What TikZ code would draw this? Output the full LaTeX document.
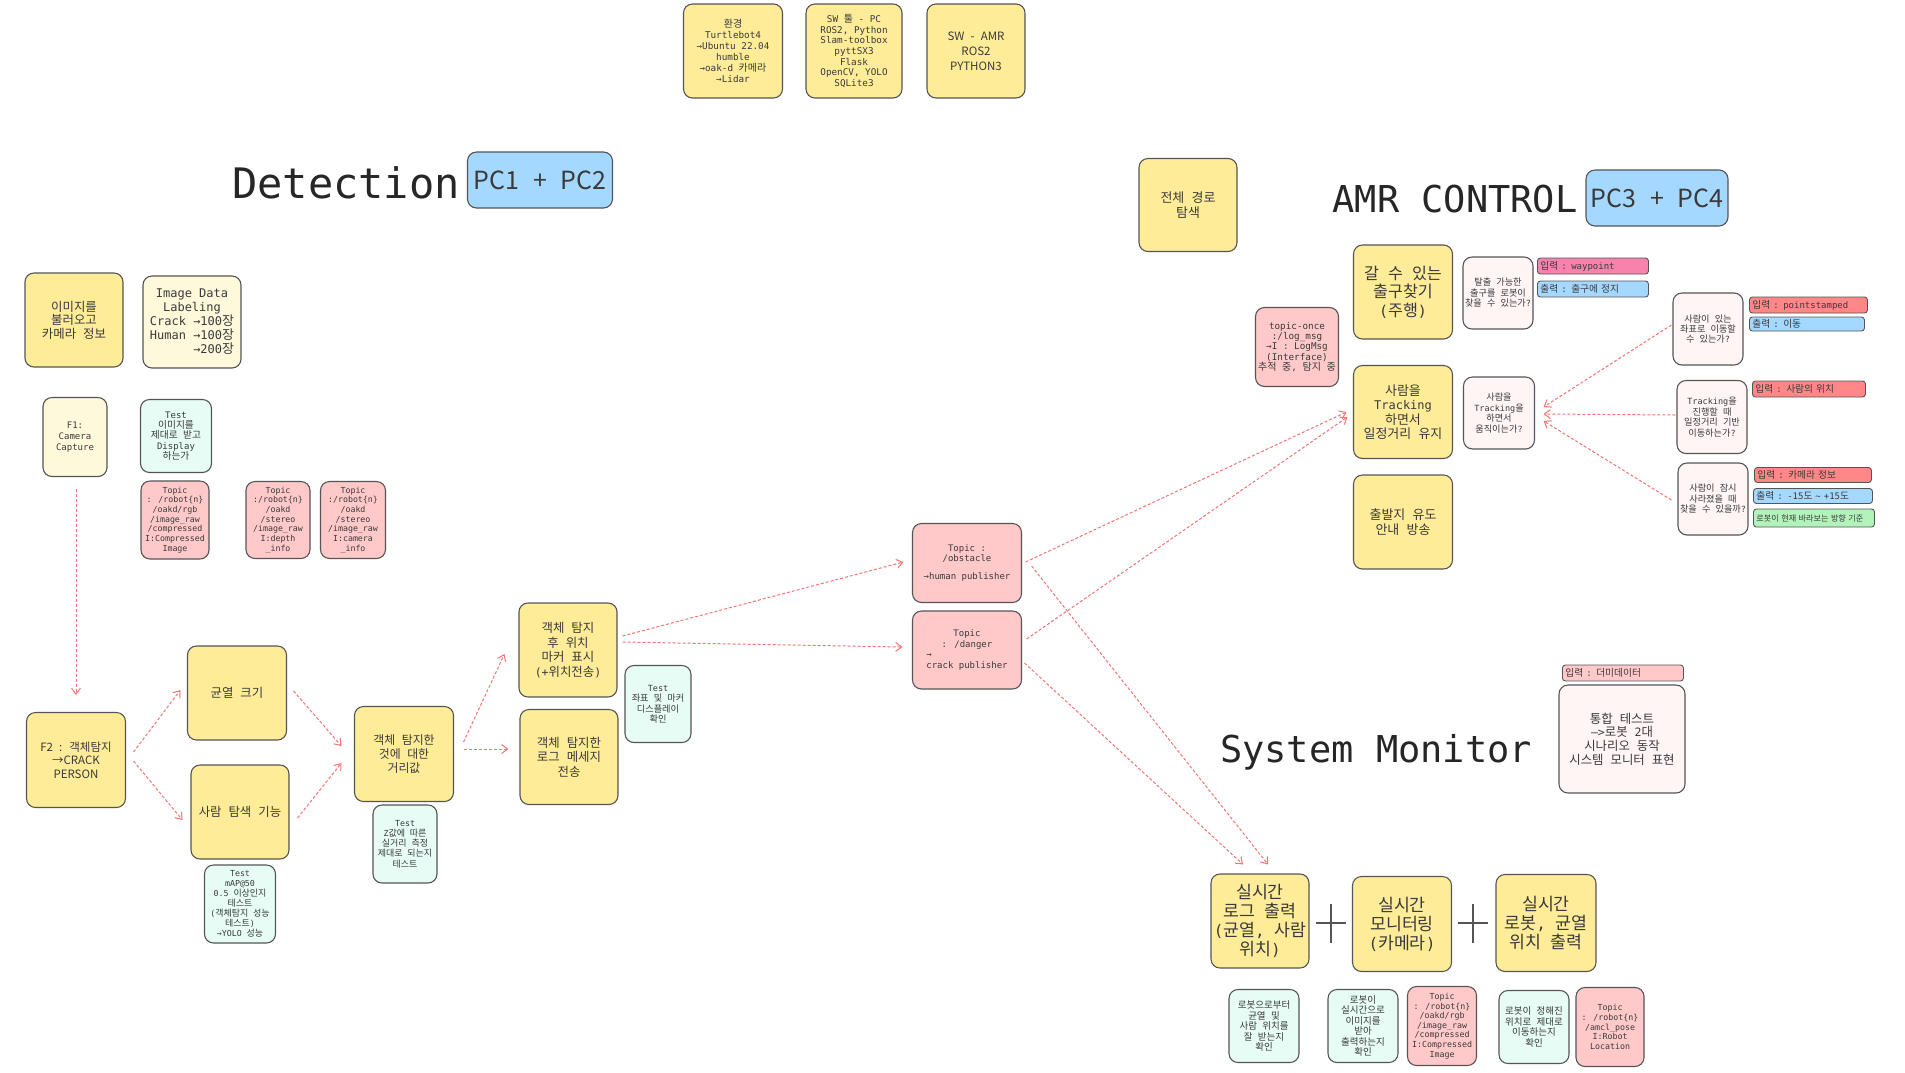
\documentclass[tikz,border=0pt]{standalone}
\usepackage{fontspec}
\setmainfont{DejaVu Sans Mono}
\newfontfamily\krfont[Scale=1.08]{Noto Sans CJK KR}
\newfontfamily\krsans[WordSpace=2.4]{Noto Sans CJK KR}
\newfontfamily\monofont{DejaVu Sans Mono}
\usetikzlibrary{arrows.meta}
\XeTeXinterchartokenstate=1
\newXeTeXintercharclass\hangul
\newcount\hcnt
\hcnt="AC00
\loop \XeTeXcharclass\hcnt=\hangul \ifnum\hcnt<"D7A3 \advance\hcnt 1 \repeat
\hcnt=33
\loop \XeTeXcharclass\hcnt=0 \ifnum\hcnt<126 \advance\hcnt 1 \repeat
\XeTeXcharclass"2192=0
\XeTeXinterchartoks 0 \hangul = {\krfont}
\XeTeXinterchartoks 4095 \hangul = {\krfont}
\XeTeXinterchartoks \hangul 0 = {\monofont}
\XeTeXinterchartoks \hangul 4095 = {\monofont}
\newcommand\sansmode{\XeTeXinterchartokenstate=0\relax\krsans}
\definecolor{yel}{HTML}{FFEC99}
\definecolor{lyel}{HTML}{FFF9DB}
\definecolor{mint}{HTML}{E6FCF5}
\definecolor{rose}{HTML}{FFC9C9}
\definecolor{blush}{HTML}{FFF5F5}
\definecolor{sky}{HTML}{A5D8FF}
\definecolor{magen}{HTML}{F783AC}
\definecolor{redtag}{HTML}{FF8787}
\definecolor{grn}{HTML}{B2F2BB}
\definecolor{edge}{HTML}{555555}
\definecolor{ink}{HTML}{3A3A3A}
\definecolor{flowc}{HTML}{F27474}
\tikzset{
 box/.style={draw=edge,line width=1.1pt,rounded corners=9pt,align=center,inner sep=1pt,text=ink},
 sz/.style 2 args={minimum width=#1pt,minimum height=#2pt},
 fz/.style 2 args={font=\fontsize{#1}{#2}\selectfont},
 sfz/.style 2 args={font=\sansmode\fontsize{#1}{#2}\selectfont},
 tg/.style={draw=edge,line width=0.9pt,rounded corners=3pt,inner xsep=3pt,inner ysep=0pt,anchor=west,align=left,text width=#1pt,minimum height=16pt,text=ink,fz={9}{10}},
 flow/.style={draw=flowc,line width=1pt,dash pattern=on 3pt off 2pt,-{Straight Barb[length=6pt,width=9pt]}},
 cross/.style={draw=edge,line width=1.2pt}
}
\begin{document}
\begin{tikzpicture}[x=1pt,y=-1pt]
\fill[white] (0,0) rectangle (1905,1072);
\useasboundingbox (0,0) rectangle (1905,1072);
\node[box,fill=yel,sz={99}{94},fz={9.3}{10.9}] (env) at (733,51) {환경\\Turtlebot4\\→Ubuntu 22.04\\humble\\→oak-d 카메라\\→Lidar};
\node[box,fill=yel,sz={96}{94},fz={9.3}{10.6}] (swpc) at (854,51) {SW 툴 - PC\\ROS2, Python\\Slam-toolbox\\pyttSX3\\Flask\\OpenCV, YOLO\\SQLite3};
\node[box,fill=yel,sz={98}{94},sfz={11.5}{15}] (swamr) at (976,51) {SW - AMR\\ROS2\\PYTHON3};
\node[fz={42}{46},text=black!85] (detect) at (346,183) {Detection};
\node[box,fill=sky,sz={145}{56},sfz={25}{28}] (pcdet) at (540,180) {PC1 + PC2};
\node[box,fill=yel,sz={98}{94},fz={11.5}{13.5}] (imgload) at (74,320) {이미지를\\불러오고\\카메라 정보};
\node[box,fill=lyel,sz={98}{92},fz={12}{14}] (label) at (192,322) {Image Data\\Labeling\\Crack →100장\\Human →100장\\\phantom{Human }→200장};
\node[box,fill=lyel,sz={64}{79},fz={9}{10.7}] (f1) at (75,437) {F1:\\Camera\\Capture};
\node[box,fill=mint,sz={71}{73},fz={9}{10.4}] (test1) at (176,436) {Test\\이미지를\\제대로 받고\\Display\\하는가};
\node[box,fill=rose,sz={68}{78},fz={8.3}{9.7}] (topic1) at (175,520) {Topic\\: /robot\{n\}\\/oakd/rgb\\/image\_raw\\/compressed\\I:Compressed\\Image};
\node[box,fill=rose,sz={64}{77},fz={8.3}{9.7}] (topic2) at (278,520) {Topic\\:/robot\{n\}\\/oakd\\/stereo\\/image\_raw\\I:depth\\\_info};
\node[box,fill=rose,sz={65}{77},fz={8.3}{9.7}] (topic3) at (353,520) {Topic\\:/robot\{n\}\\/oakd\\/stereo\\/image\_raw\\I:camera\\\_info};
\node[box,fill=yel,sz={99}{95},sfz={11.5}{13.5}] (f2) at (76,760) {F2 : 객체탐지\\→CRACK\\PERSON};
\node[box,fill=yel,sz={99}{94},fz={11.5}{14}] (crack) at (237,693) {균열 크기};
\node[box,fill=yel,sz={98}{94},fz={11.5}{14}] (person) at (240,812) {사람 탐색 기능};
\node[box,fill=yel,sz={99}{95},fz={11}{14}] (dist) at (404,754) {객체 탐지한\\것에 대한\\거리값};
\node[box,fill=mint,sz={71}{78},fz={8.3}{10}] (testmap) at (240,904) {Test\\mAP@50\\0.5 이상인지\\테스트\\(객체탐지 성능\\테스트)\\→YOLO 성능};
\node[box,fill=mint,sz={64}{78},fz={8.3}{10.3}] (testz) at (405,844) {Test\\Z값에 따른\\실거리 측정\\제대로 되는지\\테스트};
\node[box,fill=yel,sz={98}{94},fz={11.5}{14.5}] (marker) at (568,650) {객체 탐지\\후 위치\\마커 표시\\(+위치전송)};
\node[box,fill=yel,sz={98}{95},fz={11.5}{14.5}] (logmsg) at (569,757) {객체 탐지한\\로그 메세지\\전송};
\node[box,fill=mint,sz={66}{77},fz={8.5}{10.5}] (testxy) at (658,704) {Test\\좌표 및 마커\\디스플레이\\확인};
\node[box,fill=rose,sz={109}{79},fz={9}{10.8}] (obst) at (967,563) {Topic :\\/obstacle\\[7pt]→human publisher};
\node[box,fill=rose,sz={109}{78},fz={9}{10.8}] (danger) at (967,650) {Topic\\: /danger\\\rlap{→}\phantom{crack publisher}\\crack publisher};
\node[box,fill=yel,sz={98}{93},fz={12}{15}] (fullpath) at (1188,205) {전체 경로\\탐색};
\node[fz={37}{40},text=black!85] (amrtitle) at (1455,199) {AMR CONTROL};
\node[box,fill=sky,sz={142}{56},sfz={25}{28}] (pcamr) at (1657,198) {PC3 + PC4};
\node[box,fill=yel,sz={99}{94},fz={15}{18.5}] (exit) at (1403,292) {갈 수 있는\\출구찾기\\(주행)};
\node[box,fill=blush,sz={70}{72},fz={8.5}{10.5}] (exitq) at (1498,293) {탈출 가능한\\출구를 로봇이\\찾을 수 있는가?};
\node[tg=105,fill=magen] (tagwp) at (1537,266) {입력 : waypoint};
\node[tg=105,fill=sky] (tagexit) at (1537,289) {출력 : 출구에 정지};
\node[box,fill=rose,sz={83}{79},fz={9.3}{10.4}] (topiconce) at (1297,347) {topic-once\\:/log\_msg\\→I : LogMsg\\(Interface)\\추적 중, 탐지 중};
\node[box,fill=yel,sz={99}{93},fz={12}{14.5}] (track) at (1403,412) {사람을\\Tracking\\하면서\\일정거리 유지};
\node[box,fill=blush,sz={71}{72},fz={8.5}{10.5}] (trackq) at (1499,413) {사람을\\Tracking을\\하면서\\움직이는가?};
\node[box,fill=yel,sz={99}{94},fz={12}{15}] (home) at (1403,522) {출발지 유도\\안내 방송};
\node[box,fill=blush,sz={70}{72},fz={8.5}{10}] (q1) at (1708,329) {사람이 있는\\좌표로 이동할\\수 있는가?};
\node[tg=112,fill=redtag] (tag1in) at (1749,305) {입력 : pointstamped};
\node[tg=109,fill=sky,minimum height=14pt] (tag1out) at (1749,324) {출력 : 이동};
\node[box,fill=blush,sz={70}{73},fz={8.5}{10.5}] (q2) at (1712,417) {Tracking을\\진행할 때\\일정거리 기반\\이동하는가?};
\node[tg=107,fill=redtag] (tag2in) at (1752,389) {입력 : 사람의 위치};
\node[box,fill=blush,sz={70}{72},fz={8.5}{10.5}] (q3) at (1713,499) {사람이 잠시\\사라졌을 때\\찾을 수 있을까?};
\node[tg=111,fill=redtag,minimum height=15pt] (tag3in) at (1754,475) {입력 : 카메라 정보};
\node[tg=113,fill=sky,minimum height=15pt] (tag3out) at (1753,496) {출력 : -15도 \textasciitilde{} +15도};
\node[tg=115,fill=grn,minimum height=18pt,fz={7.5}{9}] (tag3note) at (1753,518) {로봇이 현재 바라보는 방향 기준};
\node[fz={37}{40},text=black!85] (montitle) at (1376,752) {System Monitor};
\node[tg=115,fill=rose] (tagdummy) at (1562,673) {입력 : 더미데이터};
\node[box,fill=blush,sz={126}{108},fz={11.5}{13.7}] (integ) at (1622,739) {통합 테스트\\-->로봇 2대\\시나리오 동작\\시스템 모니터 표현};
\node[box,fill=yel,sz={98}{94},fz={16}{19}] (live1) at (1260,921) {실시간\\로그 출력\\(균열, 사람\\위치)};
\node[box,fill=yel,sz={99}{95},fz={16}{19}] (live2) at (1402,924) {실시간\\모니터링\\(카메라)};
\node[box,fill=yel,sz={100}{97},fz={16}{19}] (live3) at (1546,923) {실시간\\로봇, 균열\\위치 출력};
\node[box,fill=mint,sz={70}{73},fz={8.8}{10.5}] (bt1) at (1264,1026) {로봇으로부터\\균열 및\\사람 위치를\\잘 받는지\\확인};
\node[box,fill=mint,sz={70}{73},fz={8.8}{10.5}] (bt2) at (1363,1026) {로봇이\\실시간으로\\이미지를\\받아\\출력하는지\\확인};
\node[box,fill=rose,sz={69}{79},fz={8.3}{9.6}] (bt3) at (1442,1026) {Topic\\: /robot\{n\}\\/oakd/rgb\\/image\_raw\\/compressed\\I:Compressed\\Image};
\node[box,fill=mint,sz={70}{73},fz={8.8}{10.5}] (bt4) at (1534,1027) {로봇이 정해진\\위치로 제대로\\이동하는지\\확인};
\node[box,fill=rose,sz={68}{79},fz={8.3}{9.6}] (bt5) at (1610,1027) {Topic\\: /robot\{n\}\\/amcl\_pose\\I:Robot\\Location};
\draw[cross] (1316,923) -- (1346,923) (1331,904) -- (1331,943);
\draw[cross] (1458,923) -- (1488,923) (1473,904) -- (1473,943);
\draw[flow] ([shift={(1,12)}]f1.south) -- ([shift={(0,-17)}]f2.north);
\draw[flow] ([shift={(7.5,-8)}]f2.east) -- ([shift={(-6.5,-3)}]crack.west);
\draw[flow] ([shift={(7.5,1)}]f2.east) -- ([shift={(-8,8)}]person.west);
\draw[flow] ([shift={(6.5,-2)}]crack.east) -- ([shift={(-12.5,-8)}]dist.west);
\draw[flow] ([shift={(8,6)}]person.east) -- ([shift={(-12.5,9)}]dist.west);
\draw[flow] ([shift={(9.5,-12)}]dist.east) -- ([shift={(-14,4)}]marker.west);
\draw[flow] ([shift={(9.5,-5)}]dist.east) -- ([shift={(-11,-8)}]logmsg.west);
\draw[flow] ([shift={(5,-14)}]marker.east) -- ([shift={(-8.5,-1)}]obst.west);
\draw[flow] ([shift={(5,-8)}]marker.east) -- ([shift={(-9.5,-3)}]danger.west);
\draw[flow] ([shift={(3.5,-1)}]obst.east) -- ([shift={(-6.5,0)}]track.west);
\draw[flow] ([shift={(4.5,-11)}]danger.east) -- ([shift={(-5.5,5)}]track.west);
\draw[flow] ([shift={(9.5,3)}]obst.east) -- ([shift={(8,-9)}]live1.north);
\draw[flow] ([shift={(2.5,13)}]danger.east) -- ([shift={(-17,-9)}]live1.north);
\draw[flow] ([shift={(-1,-4)}]q1.west) -- ([shift={(8.5,-6)}]trackq.east);
\draw[flow] ([shift={(-1,-2)}]q2.west) -- ([shift={(8.5,1)}]trackq.east);
\draw[flow] ([shift={(-6,1)}]q3.west) -- ([shift={(8.5,8)}]trackq.east);
\end{tikzpicture}
\end{document}
